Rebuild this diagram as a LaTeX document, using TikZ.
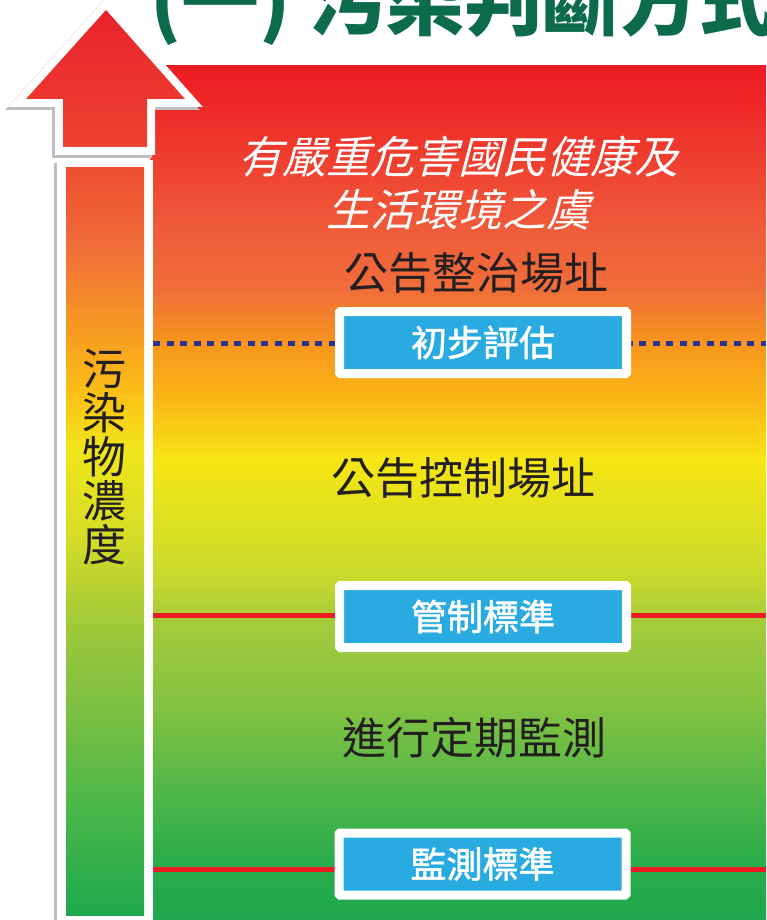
\documentclass[tikz,border=0pt]{standalone}
\usepackage{fontspec}
\newfontfamily\cjk{Noto Sans CJK TC}
\newfontfamily\cjkmed[FakeBold=1.5]{Noto Sans CJK TC}
\newfontfamily\cjkit[FakeSlant=0.26]{Noto Sans CJK TC}
\usetikzlibrary{shadows}
\definecolor{b0}{HTML}{ED1C24}
\definecolor{b1}{HTML}{EE2A27}
\definecolor{b2}{HTML}{EF5A3A}
\definecolor{b3}{HTML}{F06E3A}
\definecolor{b4}{HTML}{F7941D}
\definecolor{b5}{HTML}{FBB616}
\definecolor{b6}{HTML}{F6E614}
\definecolor{b7}{HTML}{DDE021}
\definecolor{b8}{HTML}{C7D92E}
\definecolor{b9}{HTML}{A8CC3A}
\definecolor{b10}{HTML}{7EC142}
\definecolor{b11}{HTML}{4CB649}
\definecolor{b12}{HTML}{28AB4B}
\definecolor{b13}{HTML}{1FA84F}
\definecolor{s0}{HTML}{EE4E30}
\definecolor{s1}{HTML}{F06A3A}
\definecolor{s2}{HTML}{F8A020}
\definecolor{s3}{HTML}{FBC416}
\definecolor{s4}{HTML}{F0E61A}
\definecolor{s5}{HTML}{D4DC28}
\definecolor{s6}{HTML}{97C63C}
\definecolor{s7}{HTML}{78BF43}
\definecolor{s8}{HTML}{4DB848}
\definecolor{s9}{HTML}{1FA84E}
\definecolor{headtop}{HTML}{E8232A}
\definecolor{headbot}{HTML}{EE4232}
\definecolor{titlegreen}{HTML}{0B6B4B}
\definecolor{boxblue}{HTML}{29ABE2}
\definecolor{dotblue}{HTML}{2E3192}
\definecolor{linered}{HTML}{ED1C24}
\definecolor{darktext}{HTML}{231F20}
\tikzset{
  stdbox/.style={draw=white, fill=boxblue, line width=9pt, rounded corners=1pt,
    minimum width=287pt, minimum height=62pt, inner sep=0pt, text=white,
    font=\cjkmed\fontsize{36}{36}\selectfont,
    drop shadow={shadow xshift=-2pt, shadow yshift=-3pt, fill=black, opacity=.3}},
  bodytext/.style={text=darktext, font=\cjk\fontsize{44}{44}\selectfont, inner sep=0pt},
  warntext/.style={text=white, font=\cjkit\fontsize{44}{53}\selectfont, inner sep=0pt, align=center},
  dotline/.style={dotblue, line width=5pt, dash pattern=on 7pt off 6.5pt},
  redline/.style={linered, line width=5pt}
}
\begin{document}
\begin{tikzpicture}[x=1pt,y=-1pt]
\useasboundingbox (0,0) rectangle (766,920);
\clip (0,0) rectangle (766,920);
\fill[white] (0,0) rectangle (766,920);

% background gradient
\foreach \ya/\ca/\yb/\cb in {66/b0/110/b1, 110/b1/224/b2, 224/b2/290/b3, 290/b3/341/b4,
  341/b4/399/b5, 399/b5/460/b6, 460/b6/524/b7, 524/b7/579/b8, 579/b8/615/b9,
  615/b9/716/b10, 716/b10/798/b11, 798/b11/866/b12, 866/b12/921/b13}
  \shade[top color=\ca, bottom color=\cb] (150,{\ya-0.4}) rectangle (766,{\yb+0.4});

% title
\node[anchor=base west, text=titlegreen, font=\cjk\bfseries\fontsize{78}{78}\selectfont, inner sep=0pt]
  (title) at (150,30) {(一) 污染判斷方式};

% arrow head
\def\headpath{(106,10) -- (185,99) -- (147,99) -- (147,147) -- (63,147) -- (63,99) -- (26,99) -- cycle}
\filldraw[black!25, line width=16pt, xshift=-3pt, yshift=-3pt] \headpath;
\filldraw[white, line width=16pt] \headpath;
\shade[top color=headtop, bottom color=headbot] \headpath;

% arrow shaft
\fill[black!25] (54,163) rectangle (150,925);
\fill[white] (57,160) rectangle (153,925);
\foreach \ya/\ca/\yb/\cb in {168/s0/240/s1, 240/s1/340/s2, 340/s2/400/s3, 400/s3/450/s4,
  450/s4/540/s5, 540/s5/640/s6, 640/s6/720/s7, 720/s7/800/s8, 800/s8/915/s9}
  \shade[top color=\ca, bottom color=\cb] (66,{\ya-0.4}) rectangle (144,{\yb+0.4});

\node[bodytext, align=center, font=\cjk\fontsize{44}{44}\selectfont] (axis) at (104,457) {污\\染\\物\\濃\\度};

% level lines
\coordinate (d1l) at (153,343);
\coordinate (d1r) at (766,343);
\coordinate (r1l) at (153,615);
\coordinate (r1r) at (766,615);
\coordinate (r2l) at (153,869);
\coordinate (r2r) at (766,869);
\draw[dotline] (d1l) -- (d1r);
\draw[redline] (r1l) -- (r1r);
\draw[redline] (r2l) -- (r2r);

% boxes
\node[stdbox] (b1) at (483,342.5) {初步評估};
\node[stdbox] (b2) at (483,616.5) {管制標準};
\node[stdbox] (b3) at (482.5,864) {監測標準};

% texts
\node[warntext] (warn) at (458,183) {有嚴重危害國民健康及\\生活環境之虞};
\node[bodytext] (t1) at (476,273) {公告整治場址};
\node[bodytext] (t2) at (463,478) {公告控制場址};
\node[bodytext] (t3) at (474,738) {進行定期監測};
\end{tikzpicture}
\end{document}
